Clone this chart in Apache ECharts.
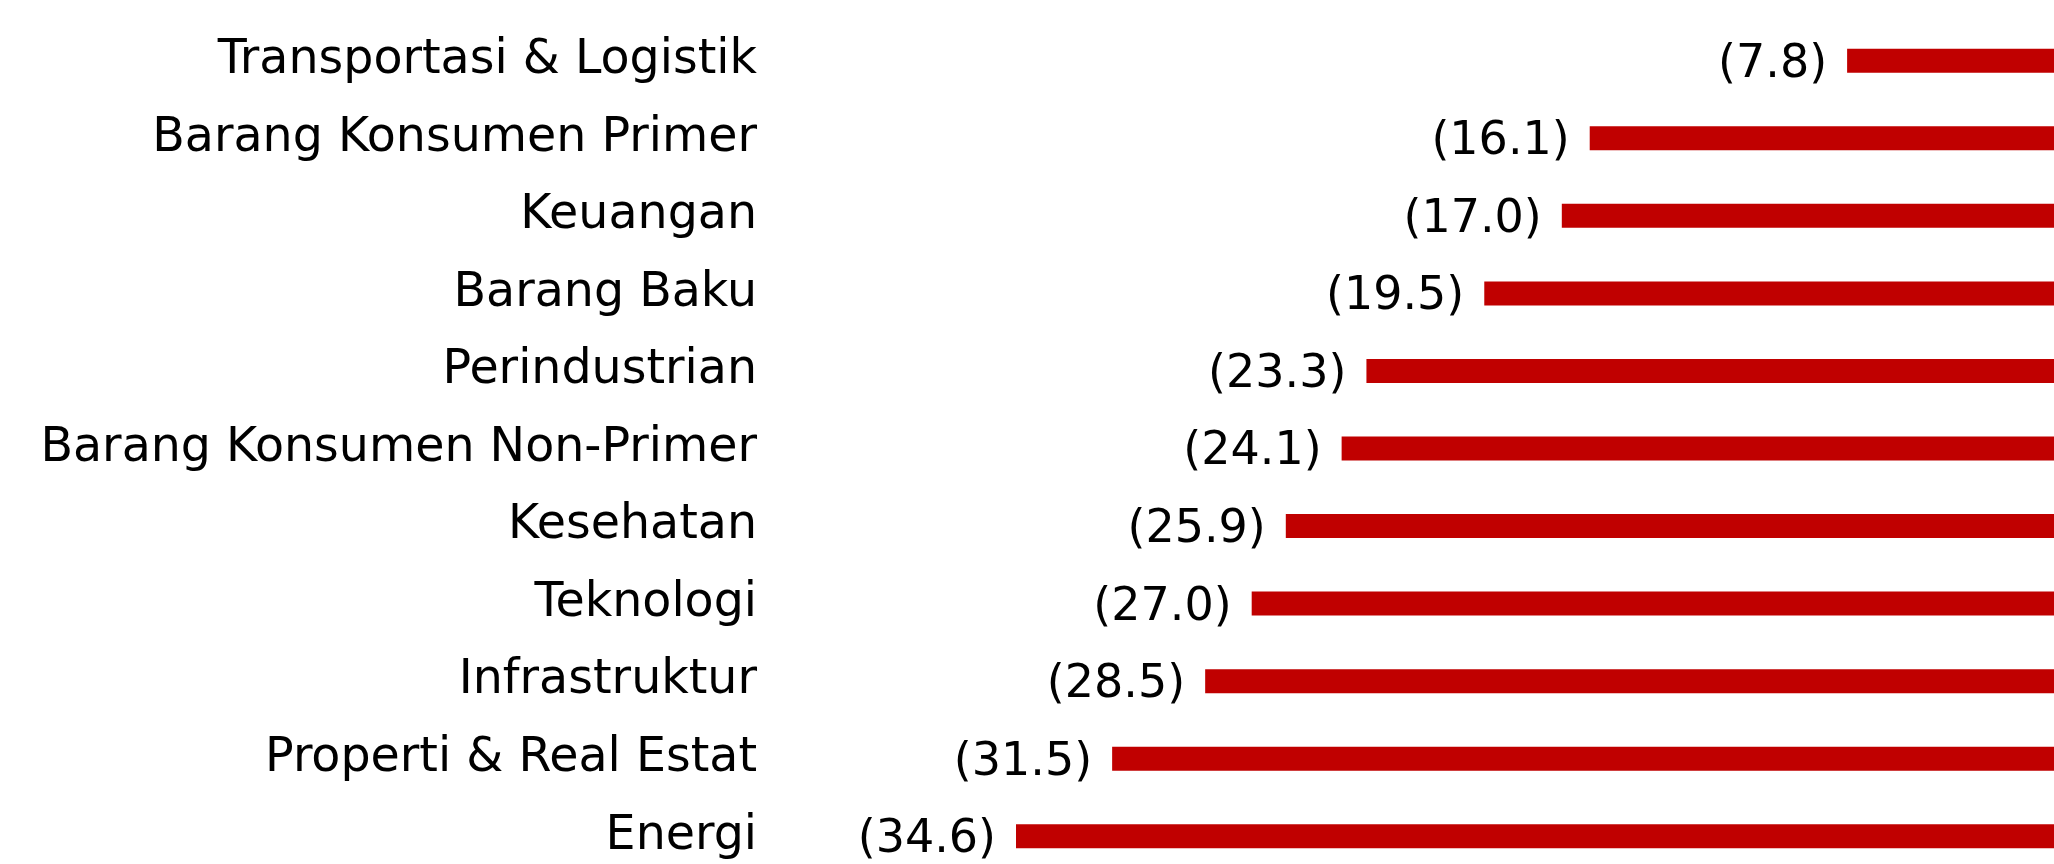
<!DOCTYPE html>
<html>
<head>
<meta charset="utf-8">
<script src="https://cdn.jsdelivr.net/npm/echarts@6/dist/echarts.min.js"></script>
<style>
  html, body { margin: 0; padding: 0; background: #fff; }
  #main { width: 2054px; height: 864px; }
</style>
</head>
<body>
<div id="main"></div>
<script>

// sektor, dari atas ke bawah
let sectorNames = ['Transportasi & Logistik', 'Barang Konsumen Primer', 'Keuangan', 'Barang Baku',
    'Perindustrian', 'Barang Konsumen Non-Primer', 'Kesehatan', 'Teknologi',
    'Infrastruktur', 'Properti & Real Estat', 'Energi'];

// perubahan (%), negatif
let sectorValues = [-7.8, -16.1, -17.0, -19.5, -23.3, -24.1, -25.9, -27.0, -28.5, -31.5, -34.6];


function printSectorChart(chartID){

    let myChart = echarts.init(document.getElementById(chartID));

    let fontName = 'DejaVu Sans';

    let option = {
        animation: false,
        grid: {
            left: 1016,
            top: 22,
            width: 1073,      // nol ada di luar kanvas
            height: 853,
            outerBoundsMode: 'none'
        },
        xAxis: {
            type: 'value',
            min: -34.6,
            max: 0,
            show: false
        },
        yAxis: {
            type: 'category',
            inverse: true,
            data: sectorNames,
            axisLine: { show: false },
            axisTick: { show: false },
            splitLine: { show: false },
            axisLabel: {
                margin: 259,
                fontSize: 47.5,
                fontFamily: fontName,
                color: '#000'
            }
        },
        series: [
            {
                type: 'bar',
                data: sectorValues,
                barWidth: 24,
                itemStyle: {
                    color: '#C00000'
                },
                label: {
                    show: true,
                    position: 'left',
                    distance: 20,
                    offset: [0, 4],
                    fontSize: 46,
                    fontFamily: fontName,
                    color: '#000',
                    formatter: function (p) {
                        return '(' + Math.abs(p.value).toFixed(1) + ')';
                    }
                }
            }
        ]
    };

    myChart.setOption(option);
}

printSectorChart('main');

</script>
</body>
</html>
